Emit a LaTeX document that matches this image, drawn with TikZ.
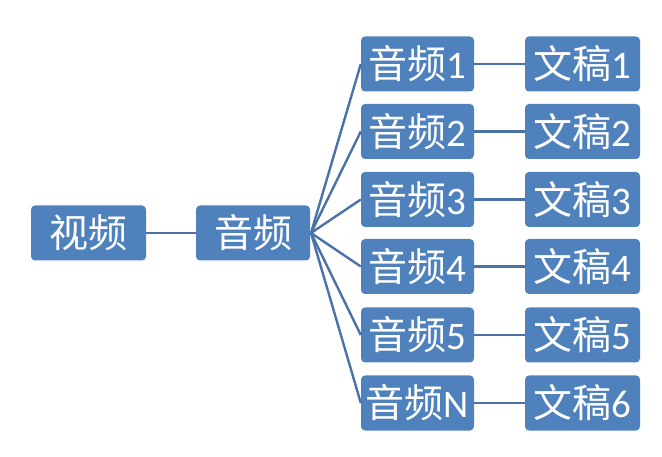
\documentclass[tikz,border=0pt]{standalone}
\usepackage{fontspec}
\setmainfont{Carlito}
\newfontfamily\cjk{Noto Sans CJK SC}
\definecolor{boxblue}{HTML}{4F81BD}
\definecolor{lineblue}{HTML}{4A72A8}
\newcommand{\zh}[1]{{\cjk\fontsize{39}{42}\selectfont #1}}
\begin{document}
\begin{tikzpicture}[x=1pt,y=-1pt,
  blk/.style={fill=boxblue,rounded corners=4pt,minimum width=114pt,minimum height=55pt,inner sep=0pt,text=white,font=\fontsize{39}{42}\selectfont},
  wide/.style={blk,minimum width=115pt},
  conn/.style={draw=lineblue,line width=2.4pt}]
\useasboundingbox (0,0) rectangle (662,457);
\node[wide] (v) at (88.5,233) {\zh{视频}};
\node[blk] (a) at (253,233) {\zh{音频}};
\foreach \i/\y/\t in {1/64/1,2/131.5/2,3/199.5/3,4/266.5/4,5/335/5,6/403/N}{
  \node[blk,minimum width=113pt] (a\i) at (417.5,\y) {\zh{音频}\t};
}
\foreach \i/\y/\t in {1/64/1,2/131.5/2,3/199.5/3,4/266.5/4,5/335/5,6/403/6}{
  \node[wide] (w\i) at (582.5,\y) {\zh{文稿}\t};
}
\draw[conn] (v.east) -- (a.west);
\coordinate (hub) at (311,233);
\foreach \i in {1,...,6}{
  \draw[conn] (hub) -- (a\i.west);
  \draw[conn] (a\i.east) -- (w\i.west);
}
\end{tikzpicture}
\end{document}
